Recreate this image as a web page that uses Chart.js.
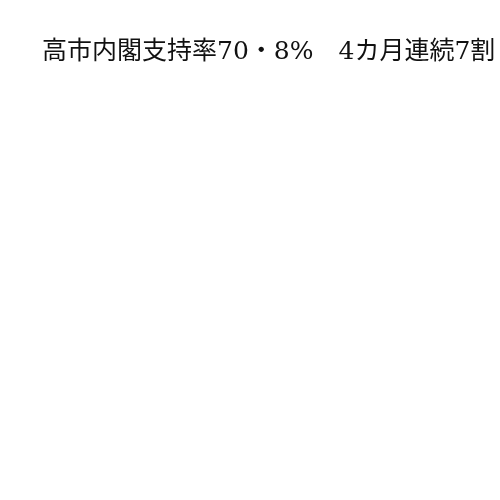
<!DOCTYPE html>
<html lang="ja">
<head>
<meta charset="utf-8">
<title>高市内閣支持率</title>
<script src="https://cdn.jsdelivr.net/npm/chart.js@4/dist/chart.umd.min.js"></script>
<style>
  html, body { margin: 0; padding: 0; background: #fff; overflow: hidden; }
  #wrap { position: relative; width: 640px; height: 500px; }
</style>
</head>
<body>
<div id="wrap"><canvas id="chart-canvas"></canvas></div>
<script>
// the picture holds only the headline, no plotted marks
const titleText = '高市内閣支持率70・8%　4カ月連続7割';
const categories = [];
const supportValues = [];

const canvas = document.getElementById('chart-canvas');
new Chart(canvas, {
  type: 'bar',
  data: {
    labels: categories,
    datasets: [{ label: '支持率', data: supportValues, backgroundColor: '#333' }],
  },
  options: {
    responsive: true,
    maintainAspectRatio: false,
    animation: false,
    layout: { padding: { left: 42, right: 0, top: 0, bottom: 0 } },
    scales: { x: { display: false }, y: { display: false } },
    plugins: {
      legend: { display: false },
      tooltip: { enabled: false },
      title: {
        display: true,
        text: titleText,
        align: 'start',
        color: '#111',
        font: { family: "'DejaVu Serif', 'Noto Sans CJK JP', serif", size: 25, weight: 'normal' },
        padding: { top: 37, bottom: 10 },
      },
    },
  },
});
</script>
</body>
</html>
